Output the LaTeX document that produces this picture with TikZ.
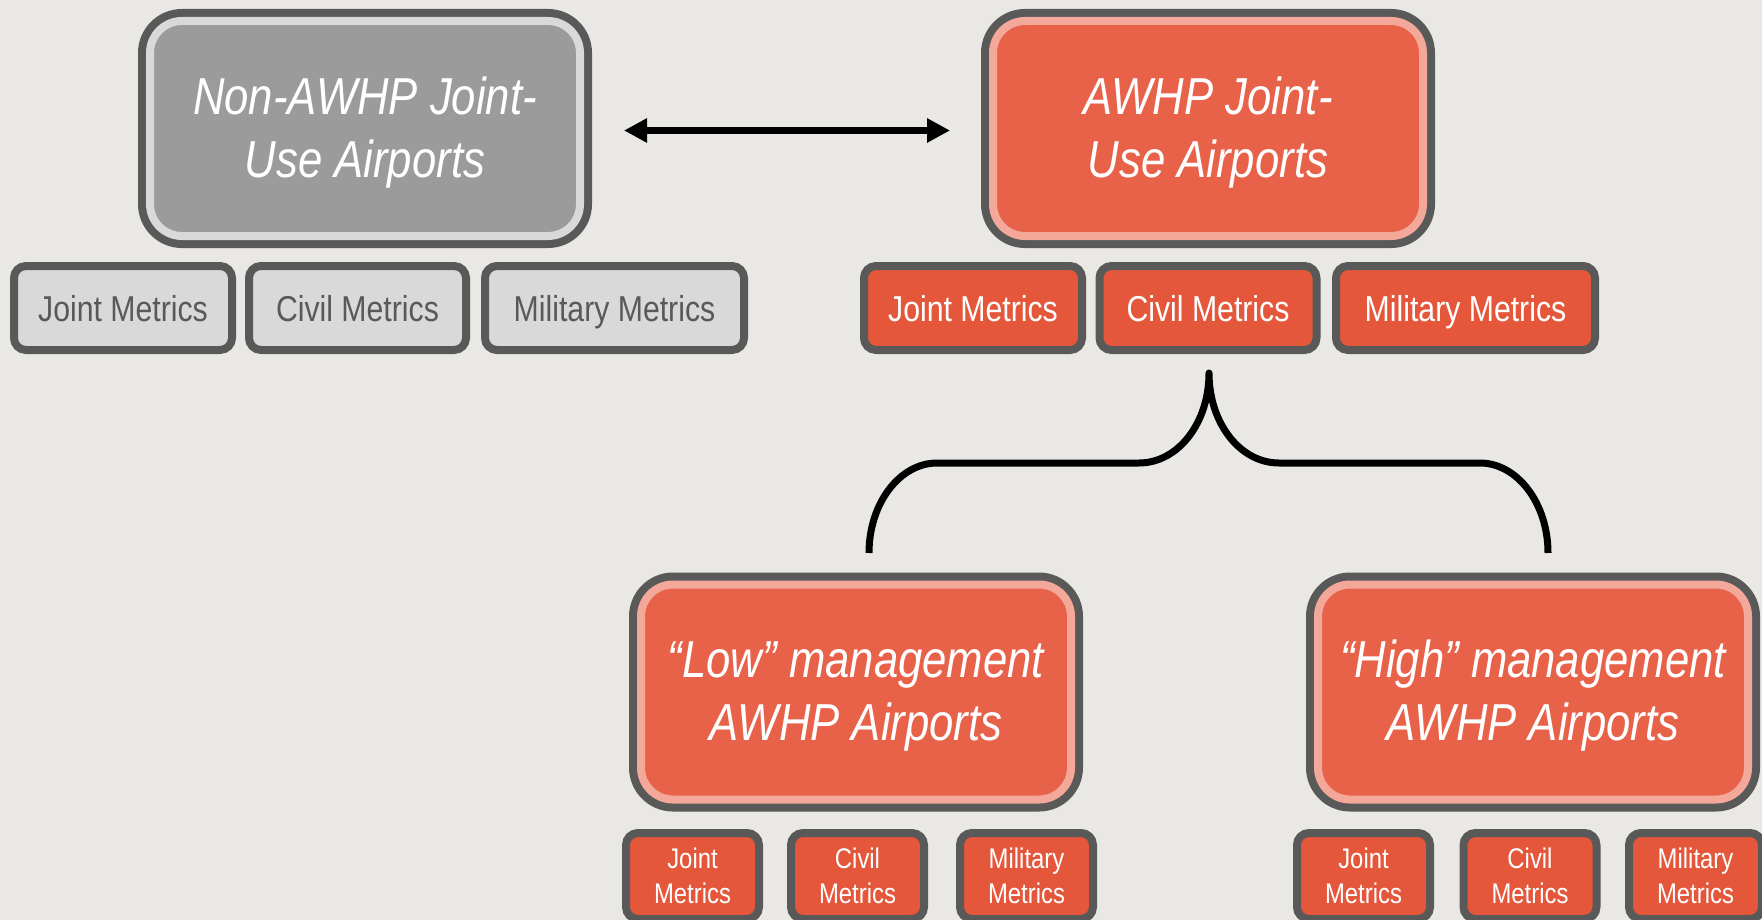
\documentclass[tikz,border=0pt]{standalone}
\usepackage{fontspec}
\setmainfont{Liberation Sans}[FakeStretch=0.84]
\usetikzlibrary{arrows.meta,calc}
\definecolor{bg}{HTML}{EAE8E5}
\definecolor{dark}{HTML}{595959}
\definecolor{grayfill}{HTML}{9B9B9B}
\definecolor{graylight}{HTML}{D9D9D9}
\definecolor{orfill}{HTML}{E8624A}
\definecolor{orlight}{HTML}{F3A899}
\definecolor{smor}{HTML}{E5573B}
\definecolor{smgray}{HTML}{D9D9D9}
\newcommand{\bigstrut}{\rule{0pt}{22.8pt}}
\begin{document}
\begin{tikzpicture}[x=0.5pt,y=-0.5pt,
  bigbox/.style={shape=rectangle, rounded corners=16pt, minimum width=215pt, minimum height=107.5pt,
    line width=4pt, outer sep=0pt, inner sep=0pt, preaction={draw=dark, line width=12pt},
    font=\fontsize{26}{31.5}\selectfont\itshape, text=white, align=center},
  graybig/.style={bigbox, fill=grayfill, draw=graylight},
  orbig/.style={bigbox, fill=orfill, draw=orlight},
  smallbox/.style={shape=rectangle, rounded corners=6pt, line width=4pt, draw=dark, outer sep=0pt,
    inner sep=0pt, minimum height=42pt, align=center},
  topsmall/.style={smallbox, font=\fontsize{18}{21}\selectfont, text height=16pt, text depth=3pt},
  graysmall/.style={topsmall, fill=smgray, text=dark},
  orsmall/.style={topsmall, fill=smor, text=white},
  botsmall/.style={smallbox, minimum width=66.5pt, minimum height=43pt,
    font=\fontsize{14.2}{17.5}\selectfont, fill=smor, text=white},
  link/.style={line width=3.5pt, draw=black, {Triangle[length=11.5pt,width=11.5pt]}-{Triangle[length=11.5pt,width=11.5pt]}},
  bracket/.style={line width=3.5pt, draw=black, line cap=butt, line join=round}
]
\useasboundingbox (0,0) rectangle (1762,920);
\fill[bg] (0,0) rectangle (1762,920);
\clip (0,0) rectangle (1762,920);

% big boxes
\node[graybig] (nonawhp) at (365,128.5) {\bigstrut Non-AWHP Joint-\\Use Airports};
\node[orbig] (awhp) at (1208,128.5) {\bigstrut AWHP Joint-\\Use Airports};
\node[orbig] (low) at (856,692) {\bigstrut “Low” management\\AWHP Airports};
\node[orbig] (high) at (1533,692) {\bigstrut “High” management\\AWHP Airports};

% top-left metrics
\node[graysmall, minimum width=109pt] (lJ) at (123,308) {Joint Metrics};
\node[graysmall, minimum width=108.5pt] (lC) at (357.5,308) {Civil Metrics};
\node[graysmall, minimum width=129.5pt] (lM) at (614.5,308) {Military Metrics};

% top-right metrics
\node[orsmall, minimum width=109pt] (rJ) at (973,308) {Joint Metrics};
\node[orsmall, minimum width=108.5pt] (rC) at (1208,308) {Civil Metrics};
\node[orsmall, minimum width=129.5pt] (rM) at (1465.5,308) {Military Metrics};

% bottom metrics
\node[botsmall] (loJ) at (692.5,876) {Joint\\Metrics};
\node[botsmall] (loC) at (857.5,876) {Civil\\Metrics};
\node[botsmall] (loM) at (1026.5,876) {Military\\Metrics};
\node[botsmall] (hiJ) at (1363.5,876) {Joint\\Metrics};
\node[botsmall] (hiC) at (1530,876) {Civil\\Metrics};
\node[botsmall] (hiM) at (1695.5,876) {Military\\Metrics};

% double arrow
\draw[link, shorten <=22pt, shorten >=21.5pt] ([yshift=-1pt]nonawhp.east) -- ([yshift=-1pt]awhp.west);

% brace
\coordinate (bt) at ($(rC.south)+(1,23)$);
\coordinate (hy) at ($(bt)+(0,180)$);
\coordinate (lx) at ($(low.north)+(13,0)$);
\coordinate (rx) at ($(high.north)+(15,0)$);
\coordinate (bl) at (lx |- hy);
\coordinate (br) at (rx |- hy);
\draw[bracket] (bl) .. controls ($(bl)+(0,-50)$) and ($(bl)+(31,-90)$) .. ($(bl)+(68,-90)$)
  -- ($(bt)+(-70,90)$) .. controls ($(bt)+(-31,90)$) and ($(bt)+(0,50)$) .. (bt)
  .. controls ($(bt)+(0,50)$) and ($(bt)+(31,90)$) .. ($(bt)+(70,90)$)
  -- ($(br)+(-68,-90)$) .. controls ($(br)+(-31,-90)$) and ($(br)+(0,-50)$) .. (br);
\end{tikzpicture}
\end{document}
